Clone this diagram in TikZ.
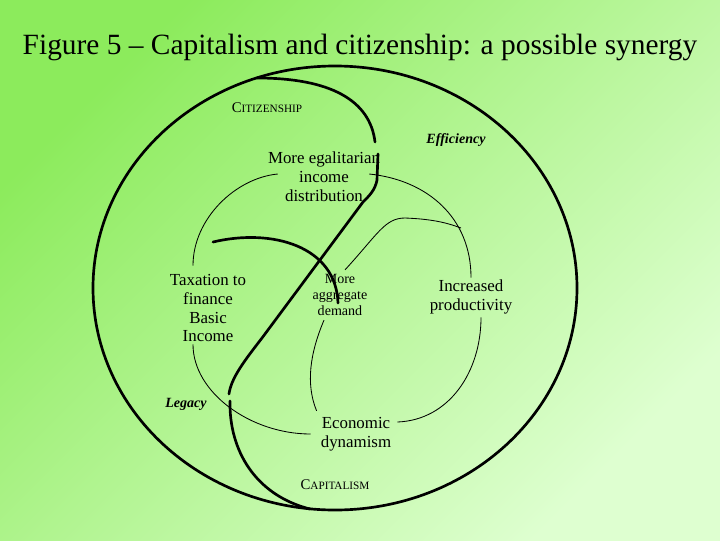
\documentclass[tikz,border=0pt]{standalone}
\usepackage{fontspec}
\setmainfont{Liberation Serif}
\usetikzlibrary{calc,
	positioning}
\definecolor{bgtop}{RGB}{140,235,92}
\definecolor{bgbottom}{RGB}{222,255,208}
\newcommand{\fakesc}[2]{#1{\fontsize{8}{10}\selectfont #2}}

\begin{document}
\begin{tikzpicture}[x=0.025cm, y=-0.025cm,
		idea/.style={align=center, inner sep=0pt, font=\fontsize{12}{13.5}\selectfont},
		smallidea/.style={align=center, inner sep=0pt, font=\fontsize{10}{11.5}\selectfont},
		realm/.style={inner sep=0pt, font=\fontsize{10.5}{12}\selectfont},
		value/.style={inner sep=0pt, font=\fontsize{10}{12}\selectfont\bfseries\itshape},
		divide/.style={line width=1.9pt, line cap=round},
		flow/.style={line width=0.6pt}]
	\useasboundingbox (0,0) rectangle (720,540);
	\shade[top color=bgtop, bottom color=bgbottom, shading angle=45] (0,0) rectangle (720,540);
	\node (title) at (360,47) {\fontsize{20.9}{24}\selectfont Figure 5 -- Capitalism and citizenship: a possible synergy};
	% the two halves
	\draw [divide] (335,288) ellipse [x radius=242, y radius=222];
	\draw [divide] (257,78) .. controls (330,78) and (370,100) .. (375,142);
	\draw [divide] (378,154) -- (377,180) .. controls (375,190) and (370,195) .. (363,202)
		-- (262,338) .. controls (245,360) and (231,378) .. (229,394);
	\draw [divide] (230,401) .. controls (229,450) and (255,495) .. (310,509);
	\draw [divide] (213,242) .. controls (272,228) and (336,246) .. (338,303);
	% labels
	\node [realm] (citizen) at (267,108) {\fakesc{C}{ITIZENSHIP}};
	\node [realm] (capital) at (335,485) {\fakesc{C}{APITALISM}};
	\node [value] (eff) at (456,140) {Efficiency};
	\node [value] (legacy) at (186,404) {Legacy};
	\node [idea] (egal) at (324,177) {More egalitarian\\income\\distribution};
	\node [idea] (tax) at (208,308) {Taxation to\\finance\\Basic\\Income};
	\node [idea] (prod) at (471,297) {Increased\\productivity};
	\node [idea] (dyn) at (356,434) {Economic\\dynamism};
	\node [smallidea] (agg) at (340,295) {More\\aggregate\\demand};
	\coordinate (meet) at (461,228);
	% the cycle
	\draw [flow] ([shift={(10,-3)}]egal.west) .. controls +(-42,4) and +(0,-47) .. ([shift={(-15,-8)}]tax.north);
	\draw [flow] ([shift={(-11,-3)}]egal.east) .. controls +(58,6) and +(0,-60) .. ([shift={(0,-2)}]prod.north);
	\draw [flow] ([shift={(10,3)}]prod.south) .. controls +(0,54) and +(52,-2) .. ([shift={(6,-12)}]dyn.east);
	\draw [flow] ([shift={(-15,2)}]tax.south) .. controls +(0,48) and +(-60,0) .. ([shift={(-10,0)}]dyn.west);
	\draw [flow] ([shift={(5,-4)}]agg.north) .. controls +(33,-36) and +(-20,0) .. (405,218)
		.. controls (430,219) and (445,222) .. (meet);
	\draw [flow] ([shift={(-16,4)}]agg.south) .. controls +(-14,33) and +(-11,-27) .. ([shift={(-4,-6)}]dyn.north west);
\end{tikzpicture}
\end{document}
